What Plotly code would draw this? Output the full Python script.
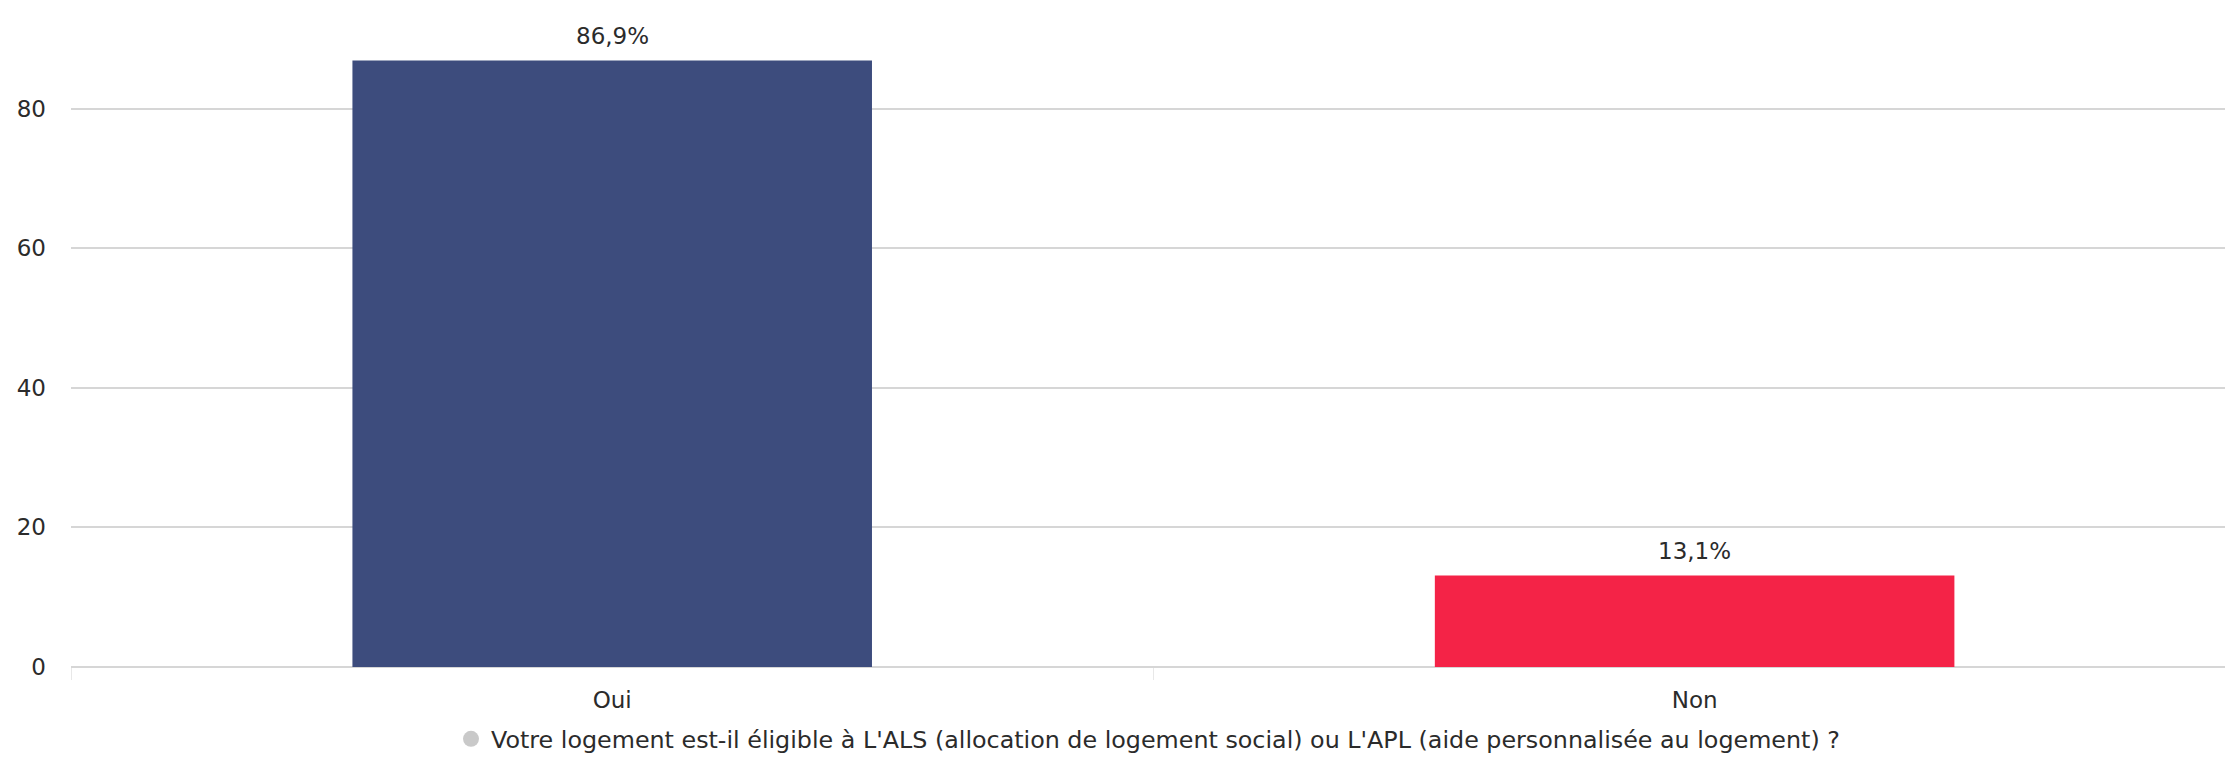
import plotly.graph_objects as go

categories = ["Oui", "Non"]
values = [86.9, 13.1]
labels = ["86,9%", "13,1%"]
bar_colors = ["#3d4c7d", "#f42347"]
series_name = "Votre logement est-il éligible à L'ALS (allocation de logement social) ou L'APL (aide personnalisée au logement) ?"
y_ticks = [0, 20, 40, 60, 80]

FONT = "'DejaVu Sans', Lato, sans-serif"
TXT = "#2b2b2b"

fig = go.Figure()
fig.add_trace(go.Bar(
    x=categories, y=values,
    marker=dict(color=bar_colors, line=dict(width=0)),
    showlegend=False, hoverinfo="x+y",
))
fig.add_trace(go.Scatter(
    x=[None], y=[None], mode="markers", name=series_name,
    marker=dict(symbol="circle", size=16, color="#c9c9c9"),
    showlegend=True,
))

for c, v, t in zip(categories, values, labels):
    fig.add_annotation(x=c, y=v, text=t, showarrow=False, yanchor="middle", yshift=25,
                       font=dict(family=FONT, size=23, color=TXT))

fig.update_layout(
    width=2225, height=782,
    margin=dict(l=71, r=0, t=25, b=115),
    paper_bgcolor="white", plot_bgcolor="white",
    bargap=0.52,
    font=dict(family=FONT, size=22, color=TXT),
    legend=dict(orientation="h", x=0.5, xanchor="center", y=-0.112, yanchor="middle",
                font=dict(family=FONT, size=23.8, color=TXT), itemsizing="trace"),
    xaxis=dict(type="category", range=[-0.5, 1.49], showgrid=False,
               showline=False, zeroline=False,
               ticks="outside", tickson="boundaries", ticklen=12, tickcolor="#e8e8e8",
               ticklabelstandoff=17,
               tickfont=dict(family=FONT, size=23, color=TXT)),
    yaxis=dict(range=[0, 92], tickvals=y_ticks, showgrid=True, gridcolor="#d6d6d6",
               gridwidth=1.5, zeroline=True, zerolinecolor="#d6d6d6", zerolinewidth=1.5,
               showline=False, ticks="", ticklabelstandoff=24,
               tickfont=dict(family=FONT, size=23, color=TXT)),
)

fig.write_html("out.html", config={"displayModeBar": False},
               post_script="document.body.style.margin='0';document.body.style.overflow='hidden';")
